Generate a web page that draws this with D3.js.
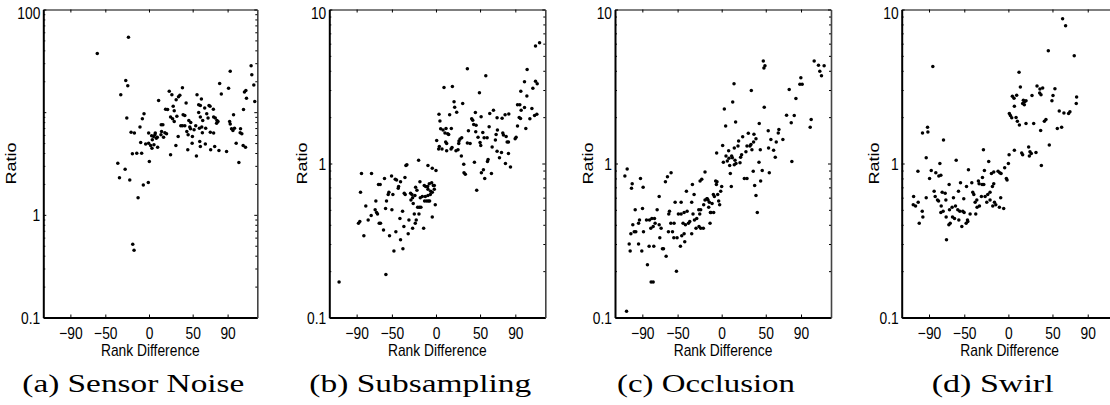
<!DOCTYPE html>
<html>
<head>
<meta charset="utf-8">
<script src="https://cdn.jsdelivr.net/npm/d3@7"></script>
<style>
  html, body { margin: 0; padding: 0; background: #fff; }
  svg { display: block; }
</style>
</head>
<body>
<div id="chart"></div>
<script>
// Ticks and captions
const xTicks = [-90, -50, 0, 50, 90];
const xDomain = [-121, 124];
const captions = ['(a) Sensor Noise', '(b) Subsampling', '(c) Occlusion', '(d) Swirl'];
const yMaxima = [100, 10, 10, 10];
// decades that carry a label (panel (a) skips 10)
const yLabelled = [[0.1, 1, 100], [0.1, 1, 10], [0.1, 1, 10], [0.1, 1, 10]];

// [rank difference, ratio]
const sensorNoise = [
  [-23.5,53.8],[-59.2,37.2],[116.9,28.4],[93.0,25.0],[117.7,23.2],[-26.6,20.3],[80.9,19.0],[120.0,18.4],[-24.3,18.1],[38.3,17.3],
  [91.1,17.1],[110.9,16.3],[23.2,16.0],[109.3,15.7],[82.8,15.0],[-32.3,14.8],[26.2,14.8],[55.0,14.8],[35.3,14.6],[33.8,14.1],
  [111.6,13.7],[60.0,13.4],[31.1,13.2],[11.0,13.0],[121.1,12.7],[42.5,12.3],[56.9,11.8],[58.8,11.6],[68.7,11.6],[27.7,11.4],
  [69.9,11.4],[63.8,11.0],[19.0,10.7],[73.7,10.7],[21.3,10.6],[108.2,10.6],[28.9,10.3],[56.9,9.95],[-5.7,9.66],[66.1,9.66],
  [39.1,9.44],[96.8,9.44],[41.0,9.30],[31.9,9.10],[24.7,8.96],[58.8,8.96],[74.0,8.96],[-25.4,8.75],[67.6,8.75],[75.9,8.75],
  [-7.6,8.63],[27.0,8.63],[45.6,8.30],[61.5,8.30],[77.8,8.30],[28.9,8.12],[79.0,8.12],[92.3,8.12],[47.8,7.94],[77.4,7.82],
  [93.0,7.65],[14.0,7.54],[15.9,7.54],[36.4,7.37],[38.3,7.37],[41.0,7.37],[53.5,7.37],[-10.3,7.15],[46.7,7.15],[60.4,7.15],
  [57.7,6.99],[64.9,6.99],[97.9,6.99],[47.5,6.89],[94.5,6.89],[104.8,6.89],[51.6,6.73],[96.1,6.63],[14.4,6.49],[43.3,6.49],
  [-20.5,6.39],[70.2,6.39],[18.2,6.30],[61.1,6.30],[104.4,6.30],[-16.7,6.25],[-0.4,6.25],[7.2,6.25],[74.0,6.25],[20.1,6.15],
  [106.3,6.15],[13.7,6.01],[6.8,6.01],[44.8,6.01],[3.0,5.89],[5.3,5.80],[33.4,5.80],[49.7,5.80],[16.7,5.71],[9.5,5.71],
  [8.4,5.58],[3.8,5.38],[58.1,5.18],[-9.5,5.06],[-0.4,4.99],[49.4,4.99],[99.8,4.99],[-3.8,4.91],[64.5,4.91],[5.7,4.81],
  [1.9,4.73],[30.8,4.73],[107.8,4.73],[75.2,4.62],[58.8,4.62],[9.9,4.56],[110.5,4.56],[3.4,4.46],[44.4,4.30],[70.6,4.30],
  [80.1,4.23],[88.8,4.13],[-8.4,3.98],[-14.0,3.98],[-19.0,3.93],[24.7,3.84],[54.3,3.75],[0.4,3.30],[102.9,3.23],[-35.7,3.18],
  [-27.3,2.78],[-33.8,2.30],[-22.0,2.19],[-0.8,2.06],[-6.5,1.95],[-12.5,1.47],[-18.6,0.518],[-17.1,0.452]
];

const subsampling = [
  [117.5,6.08],[112.9,5.79],[35.6,4.13],[103.4,4.08],[56.5,3.72],[100.4,3.40],[112.9,3.42],[114.8,3.30],[9.1,3.11],[18.6,3.16],
  [49.3,2.88],[96.2,2.94],[109.9,3.08],[103.1,2.74],[20.5,2.52],[30.3,2.45],[21.2,2.32],[92.5,2.41],[95.1,2.41],[23.5,2.15],
  [65.2,2.22],[44.7,2.14],[82.6,2.10],[78.4,2.07],[51.2,2.01],[61.0,2.11],[114.4,2.09],[111.8,2.05],[3.4,2.09],[15.5,2.07],
  [100.4,2.31],[108.8,2.28],[96.6,2.22],[69.3,1.98],[75.0,1.97],[40.5,1.95],[41.7,1.91],[94.4,1.99],[95.9,1.96],[4.5,1.89],
  [106.5,1.95],[45.5,1.77],[42.8,1.79],[60.3,1.73],[5.3,1.68],[8.0,1.65],[17.4,1.69],[11.4,1.69],[92.5,1.75],[101.9,1.69],
  [36.8,1.63],[69.7,1.65],[75.8,1.58],[76.5,1.53],[45.1,1.61],[68.2,1.54],[10.2,1.58],[14.4,1.54],[13.3,1.56],[53.1,1.59],
  [54.6,1.47],[47.7,1.48],[29.2,1.47],[27.3,1.44],[58.0,1.47],[90.9,1.48],[89.8,1.45],[82.2,1.38],[80.7,1.38],[79.6,1.50],
  [26.1,1.40],[0.8,1.41],[67.4,1.42],[50.0,1.37],[11.0,1.38],[12.1,1.35],[25.8,1.35],[35.6,1.36],[38.7,1.35],[3.8,1.29],
  [3.0,1.24],[6.8,1.24],[18.2,1.27],[17.1,1.24],[22.7,1.21],[25.0,1.23],[63.7,1.28],[50.8,1.31],[12.1,1.21],[69.3,1.20],
  [28.8,1.12],[74.3,1.18],[82.2,1.16],[58.4,1.03],[59.1,1.06],[31.5,0.99],[43.6,1.02],[78.8,1.00],[72.0,1.09],[31.8,0.87],
  [33.3,0.85],[62.9,0.86],[51.5,0.87],[53.8,0.91],[55.3,0.80],[46.2,0.67],[84.5,0.95],
  [-19.7,1.05],[-34.1,0.97],[-33.0,0.98],[-9.1,0.97],[-4.2,0.93],[0,0.90],[-84.5,0.86],[-73.1,0.86],[-65.2,0.73],[-63.3,0.73],
  [-58.4,0.80],[-50.4,0.83],[-46.2,0.79],[-44.7,0.78],[-35.2,0.81],[-40.2,0.76],[-48.9,0.63],[-42.8,0.69],[-54.2,0.63],[-53.4,0.65],
  [-85.6,0.65],[-36.0,0.64],[-28.8,0.64],[-21.6,0.67],[-18.2,0.76],[-7.6,0.74],[-4.9,0.75],[-13.3,0.72],[-9.1,0.68],[-4.2,0.65],
  [-1.9,0.72],[-9.1,0.62],[-26.5,0.60],[-17.8,0.60],[-12.1,0.61],[-6.4,0.63],[-23.1,0.70],[-23.9,0.62],
  [-79.6,0.53],[-87.9,0.41],[-86.4,0.42],[-81.8,0.34],[-76.9,0.43],[-73.5,0.46],[-69.0,0.50],[-67.4,0.48],[-66.3,0.47],[-64.4,0.41],
  [-62.9,0.41],[-68.2,0.57],[-59.5,0.37],[-57.2,0.51],[-56.1,0.57],[-52.7,0.34],[-50.0,0.50],[-45.5,0.36],[-42.4,0.71],[-40.2,0.32],
  [-40.9,0.44],[-37.9,0.49],[-36.4,0.39],[-34.9,0.63],[-31.5,0.35],[-30.7,0.43],[-28.4,0.58],[-27.3,0.63],[-26.5,0.38],[-25.8,0.55],
  [-24.6,0.47],[-23.5,0.41],[-22.4,0.43],[-20.8,0.52],[-19.3,0.47],[-18.9,0.52],[-17.1,0.52],[-15.5,0.61],[-14.0,0.38],[-12.9,0.57],
  [-10.6,0.57],[-11.7,0.71],[-9.5,0.71],[-8.7,0.57],[-7.2,0.57],[-6.1,0.66],[-4.2,0.45],[-3.0,0.72],[-1.9,0.68],[-0.8,0.54],
  [-47.7,0.27],[-37.5,0.28],[-56.8,0.19],[-109.9,0.17]
];

const occlusion = [
  [104.9,4.63],[109.8,4.35],[116.2,4.32],[111.3,3.97],[113.2,3.72],[47.2,4.63],[49.1,4.32],[47.9,4.17],[14.0,3.29],[33.6,2.98],
  [76.6,3.02],[89.8,3.61],[91.3,3.27],[88.7,3.27],[84.2,2.64],[12.5,2.51],[3.0,2.26],[48.3,2.32],[82.3,2.05],[73.6,2.06],
  [15.8,1.86],[4.5,1.75],[100.4,1.72],[101.5,1.93],[78.9,1.84],[42.6,1.82],[52.8,1.63],[64.9,1.66],[64.2,1.58],[30.2,1.57],
  [36.6,1.55],[38.9,1.45],[23.8,1.49],[19.2,1.40],[18.5,1.30],[14.3,1.26],[55.8,1.43],[69.4,1.43],[61.9,1.38],[28.7,1.30],
  [32.1,1.30],[33.2,1.33],[36.2,1.38],[1.1,1.31],[7.9,1.21],[11.3,1.12],[-5.7,1.17],[4.9,1.12],[8.3,1.08],[12.1,1.09],
  [15.1,1.05],[21.5,1.10],[22.6,1.14],[27.5,1.19],[34.3,1.23],[43.8,1.23],[53.2,1.26],[58.9,1.22],[60.8,1.10],[42.3,1.02],
  [79.6,1.03],[14.3,0.98],[20.8,1.01],[16.2,1.00],[9.1,0.97],[6.4,1.04],[1.9,1.02],[54.0,0.87],[46.0,0.90],[35.8,0.89],
  [25.7,0.80],[28.7,0.80],[9.8,0.86],[10.9,0.71],[44.2,0.77],[38.9,0.62],[37.4,0.72],[-1.1,0.66],[0,0.71],[-9.4,0.63],
  [-6.0,0.73],[-5.3,0.76],[-8.3,0.61],[-16.6,0.59],[-24.5,0.77],[-22.6,0.79],[-18.9,0.88],[-33.2,0.73],[-31.3,0.63],[-40.0,0.66],
  [-57.4,0.87],[-61.5,0.82],[-63.8,0.76],[-70.9,0.61],[-92.1,0.80],[-89.1,0.70],[-101.5,0.74],[-102.3,0.69],[-109.8,0.83],[-107.2,0.92],
  [-6.8,0.77],
  [-98.1,0.50],[-89.8,0.51],[-73.2,0.50],[-93.2,0.43],[-94.3,0.41],[-100.8,0.40],[-99.2,0.36],[-97.4,0.36],[-103.0,0.35],[-88.7,0.36],
  [-85.3,0.43],[-81.9,0.43],[-79.2,0.44],[-76.2,0.44],[-80.4,0.38],[-77.7,0.39],[-75.5,0.41],[-70.9,0.40],[-68.7,0.38],[-70.2,0.33],
  [-104.9,0.30],[-103.8,0.27],[-94.3,0.30],[-90.6,0.27],[-82.3,0.29],[-77.0,0.29],[-84.2,0.22],[-80.0,0.17],[-77.7,0.17],[-67.2,0.28],
  [-66.0,0.28],[-63.0,0.25],[-59.2,0.49],[-60.0,0.47],[-57.7,0.41],[-60.4,0.36],[-55.8,0.36],[-54.3,0.33],[-50.6,0.33],[-52.8,0.56],
  [-46.0,0.56],[-49.1,0.47],[-46.0,0.47],[-42.6,0.48],[-39.2,0.49],[-43.8,0.41],[-41.1,0.40],[-37.7,0.41],[-54.0,0.41],[-42.6,0.35],
  [-45.3,0.34],[-41.9,0.31],[-46.8,0.29],[-51.3,0.20],[-34.0,0.56],[-32.5,0.47],[-30.9,0.43],[-29.1,0.38],[-28.3,0.44],[-26.0,0.50],
  [-23.8,0.50],[-24.9,0.47],[-20.4,0.54],[-18.9,0.58],[-16.6,0.59],[-15.5,0.58],[-14.7,0.52],[-14.0,0.56],[-12.8,0.48],[-12.1,0.48],
  [-10.9,0.55],[-9.1,0.48],[-13.2,0.41],[-4.5,0.63],[-2.3,0.54],[-3.4,0.57],[-36.2,0.42],[-34.0,0.35],[-25.7,0.39],[-23.8,0.38],
  [-20.8,0.38],[40.4,0.48],[-107.9,0.11]
];

const swirl = [
  [61.5,8.70],[64.9,7.84],[45.3,5.40],[74.7,5.01],[-85.7,4.27],[12.1,3.91],[13.6,3.14],[4.5,2.73],[6.4,2.65],[32.5,3.19],
  [35.8,3.05],[38.9,3.09],[9.4,2.77],[26.8,2.76],[35.5,2.87],[37.0,2.80],[52.8,3.06],[50.6,2.76],[49.4,2.56],[77.4,2.70],
  [77.0,2.45],[6.8,2.35],[17.0,2.57],[18.5,2.53],[20.0,2.56],[18.1,2.41],[16.2,2.45],[57.7,2.19],[63.0,2.13],[69.8,2.17],
  [68.3,2.11],[1.1,2.11],[2.3,2.05],[3.8,1.98],[8.7,1.99],[10.2,1.88],[12.5,1.78],[20.0,1.82],[28.7,1.82],[40.8,1.88],
  [42.6,1.93],[55.5,1.69],[60.4,1.72],[36.6,1.64],[-97.4,1.58],[-91.7,1.72],[-91.3,1.60],[-73.6,1.42],[46.4,1.32],[23.0,1.28],
  [6.8,1.22],[-28.3,1.23],[15.1,1.17],[16.2,1.14],[24.5,1.19],[26.0,1.16],[23.8,1.12],[31.3,1.18],[0.8,1.14],[37.4,0.97],
  [-93.2,1.09],[-59.2,1.05],[-77.7,1.00],[-22.3,1.03],[-102.6,0.89],[-87.5,0.90],[-82.3,0.87],[-89.4,0.80],[-78.9,0.83],[-76.6,0.84],
  [-45.3,0.91],[-27.2,0.90],[-11.7,0.89],[-9.8,0.87],[-8.3,0.86],[-16.6,0.88],[-19.2,0.86],[-2.3,0.80],[-1.5,0.78],[-4.2,0.94],
  [0,1.00],[-29.4,0.81],[-54.3,0.75],[-67.2,0.73],[-75.1,0.65],[-41.5,0.75],[-34.0,0.77],[-33.2,0.74],[-47.5,0.71],[-56.6,0.66],
  [-40.4,0.65],[-29.8,0.73],[-18.1,0.71],[-16.6,0.74],[-26.4,0.61],[-107.5,0.61],[-93.2,0.60],[-84.2,0.66],[-83.0,0.61],[-62.3,0.60],
  [-50.6,0.59],[-20.8,0.65],[-8.7,0.60],
  [-107.9,0.54],[-101.1,0.41],[-105.3,0.53],[-102.3,0.56],[-97.7,0.49],[-97.0,0.45],[-80.4,0.58],[-79.2,0.57],[-76.2,0.53],[-74.0,0.49],
  [-70.6,0.45],[-76.6,0.48],[-67.5,0.40],[-66.0,0.41],[-71.7,0.64],[-70.9,0.58],[-66.8,0.50],[-63.8,0.52],[-63.4,0.45],[-61.1,0.44],
  [-60.0,0.53],[-57.4,0.50],[-55.1,0.49],[-52.8,0.39],[-51.7,0.49],[-50.2,0.48],[-47.9,0.41],[-46.4,0.43],[-43.4,0.47],[-39.2,0.63],
  [-37.7,0.56],[-35.8,0.58],[-37.0,0.47],[-35.5,0.52],[-32.8,0.53],[-30.6,0.61],[-27.9,0.73],[-23.4,0.63],[-24.5,0.56],[-20.8,0.58],
  [-17.7,0.53],[-15.8,0.56],[-14.3,0.54],[-10.2,0.52],[-5.3,0.51],[-70.2,0.32],[-46.0,0.42],[-56.2,0.43]
];

const series = [sensorNoise, subsampling, occlusion, swirl];

// Layout
const chartWidth = 1110;
const chartHeight = 405;
const plotTop = 9.5;
const plotBottom = 317.5;
const panelLeft = [43.3, 329.3, 615, 901.7];
const panelWidth = [214, 216, 216, 216];
const stretch = 1.2; // the printed figure is stretched vertically, so is its text
const sansFont = "'Liberation Sans', Arial, Helvetica, sans-serif";
const serifFont = "'Liberation Serif', 'Times New Roman', serif";

const isDecade = (v) => Math.abs(Math.log10(v) - Math.round(Math.log10(v))) < 1e-9;
const fmtRank = (d) => (d < 0 ? '\u2212' + Math.abs(d) : String(d));
const fmtRatio = (d) => (d < 1 ? d.toFixed(1) : d3.format('d')(d));

const svg = d3
  .select('#chart')
  .append('svg')
  .attr('width', chartWidth)
  .attr('height', chartHeight)
  .style('background', '#fff');

series.forEach((points, i) => {
  const left = panelLeft[i];
  const right = left + panelWidth[i];
  const yMax = yMaxima[i];
  const labelled = (d) => yLabelled[i].some((v) => Math.abs(v - d) < 1e-9);

  const x = d3.scaleLinear().domain(xDomain).range([left, right]);
  const y = d3.scaleLog().domain([0.1, yMax]).range([plotBottom, plotTop]);
  const yTickValues = y.ticks();

  const g = svg.append('g').attr('class', 'panel');

  // Bottom X axis
  g.append('g')
    .attr('transform', `translate(0,${plotBottom})`)
    .call(d3.axisBottom(x).tickValues(xTicks).tickSize(-3).tickSizeOuter(0).tickFormat(fmtRank))
    .attr('font-family', sansFont)
    .attr('font-size', 13.8)
    .call((ax) => ax.select('.domain').attr('stroke', '#000').attr('stroke-width', 2))
    .call((ax) =>
      ax
        .selectAll('.tick text')
        .attr('fill', '#000')
        .attr('y', 17.6)
        .attr('dy', null)
        .attr('transform', `scale(1,${stretch})`)
    );

  // Top X axis (ticks only)
  g.append('g')
    .attr('transform', `translate(0,${plotTop})`)
    .call(d3.axisTop(x).tickValues(xTicks).tickSize(-3).tickSizeOuter(0).tickFormat(''))
    .call((ax) => ax.select('.domain').attr('stroke', '#000').attr('stroke-width', 1.2));

  // Left Y axis, log scale with minor ticks
  g.append('g')
    .attr('transform', `translate(${left},0)`)
    .call(
      d3
        .axisLeft(y)
        .tickValues(yTickValues)
        .tickSize(-3)
        .tickSizeOuter(0)
        .tickFormat((d) => (labelled(d) ? fmtRatio(d) : ''))
    )
    .attr('font-family', sansFont)
    .attr('font-size', 13.8)
    .call((ax) => ax.select('.domain').attr('stroke', '#000').attr('stroke-width', 2))
    .call((ax) => ax.selectAll('.tick').filter((d) => !isDecade(d)).select('line').attr('x2', 2))
    .call((ax) =>
      ax
        .selectAll('.tick text')
        .attr('fill', '#000')
        .attr('x', -3)
        .attr('dy', null)
        .attr('y', (d) => (d === yMax ? 7.5 : 5))
        .attr('transform', `scale(1,${stretch})`)
    );

  // Right Y axis (ticks only)
  g.append('g')
    .attr('transform', `translate(${right},0)`)
    .call(d3.axisRight(y).tickValues(yTickValues).tickSize(-3).tickSizeOuter(0).tickFormat(''))
    .call((ax) => ax.select('.domain').attr('stroke', '#444').attr('stroke-width', 1.6))
    .call((ax) => ax.selectAll('.tick').filter((d) => !isDecade(d)).select('line').attr('x2', -2));

  // Dots
  g.append('g')
    .selectAll('circle')
    .data(points)
    .join('circle')
    .attr('cx', (d) => x(d[0]))
    .attr('cy', (d) => y(d[1]))
    .attr('r', 1.75)
    .attr('fill', '#000');

  // X label
  g.append('text')
    .attr('transform', `translate(${(left + right) / 2},355.5) scale(1,${stretch})`)
    .attr('text-anchor', 'middle')
    .attr('font-family', sansFont)
    .attr('font-size', 13.8)
    .text('Rank Difference');

  // Y label
  const yLabelX = i === 0 ? left - 27 : left - 22.5;
  g.append('text')
    .attr('transform', `translate(${yLabelX},${(plotTop + plotBottom) / 2}) scale(1,${stretch}) rotate(-90)`)
    .attr('text-anchor', 'middle')
    .attr('font-family', sansFont)
    .attr('font-size', 15)
    .text('Ratio');

  // Caption
  const captionWidth = [222, 222, 178, 122][i];
  g.append('text')
    .attr('x', (left + right) / 2 - 17)
    .attr('y', 392)
    .attr('text-anchor', 'middle')
    .attr('font-family', serifFont)
    .attr('font-size', 26)
    .attr('textLength', captionWidth)
    .attr('lengthAdjust', 'spacingAndGlyphs')
    .text(captions[i]);
});
</script>
</body>
</html>
